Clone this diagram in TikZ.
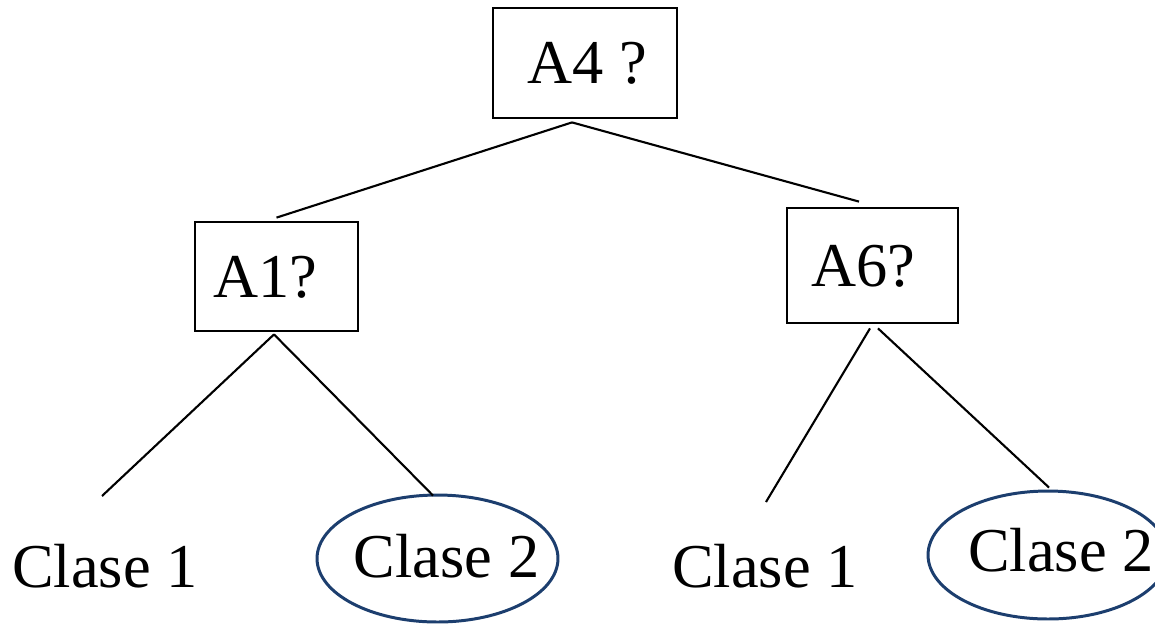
\documentclass[tikz,border=0pt]{standalone}
\usepackage{fontspec}
\setmainfont{Liberation Serif}
\usetikzlibrary{calc,shapes.geometric}
\definecolor{ellblue}{RGB}{28,62,110}
\tikzset{
  txt/.style={font=\fontsize{35.5}{42}\selectfont, inner sep=0pt, text height=23.4pt, text depth=0pt},
  qbox/.style={txt, draw=black, line width=1.6pt, rectangle},
  leafell/.style={draw=ellblue, line width=1.7pt, ellipse, inner sep=0pt},
  edge/.style={draw=black, line width=1.2pt}
}
\begin{document}
\begin{tikzpicture}[x=0.02cm, y=-0.02cm]
\useasboundingbox (0,0) rectangle (1155,623);
\node[qbox, minimum width=3.68cm, minimum height=2.2cm] (A4) at (585,63) {\hspace*{0.1cm}A4 ?};
\node[qbox, minimum width=3.26cm, minimum height=2.18cm] (A1) at (276.5,276.5) {A1?\hspace*{0.46cm}};
\node[qbox, minimum width=3.42cm, minimum height=2.3cm] (A6) at (872.5,265.5) {A6?\hspace*{0.36cm}};
\node[txt] (L1) at (105,566.5) {Clase 1};
\node[txt] (L3) at (765,566.5) {Clase 1};
\node[leafell, minimum width=4.82cm, minimum height=2.54cm] (E2) at (437.5,558.5) {};
\node[txt] (L2) at (446.5,557) {Clase 2};
\node[leafell, minimum width=4.8cm, minimum height=2.56cm] (E4) at (1048,555) {};
\node[txt] (L4) at (1061,551) {Clase 2};
\draw[edge] ($(A4.south)+(-13,3)$) -- ($(A1.north)+(0,-3)$);
\draw[edge] ($(A4.south)+(-13,3)$) -- ($(A6.north)+(-13.5,-5)$);
\draw[edge] ($(A1.south)+(-2.5,2)$) -- ($(L1.center)+(-3,-70.5)$);
\draw[edge] ($(A1.south)+(-2.5,2)$) -- ($(E2.north)+(-4.5,2)$);
\draw[edge] ($(A6.south)+(-2.5,4)$) -- ($(L3.center)+(1,-64.5)$);
\draw[edge] ($(A6.south)+(5.5,4)$) -- ($(E4.north)+(1,-2)$);
\end{tikzpicture}
\end{document}
